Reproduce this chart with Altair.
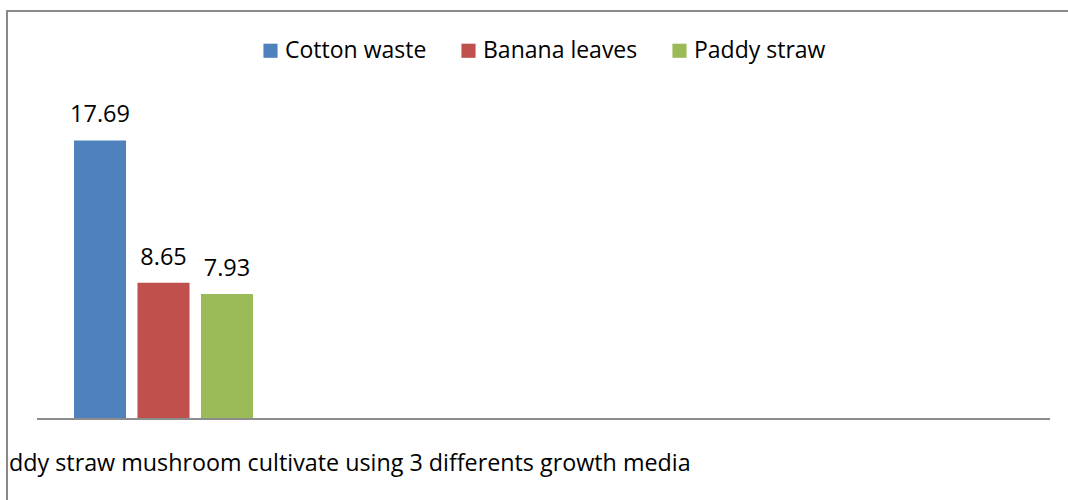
import altair as alt
import pandas as pd

series = ["Cotton waste", "Banana leaves", "Paddy straw"]
values = [17.69, 8.65, 7.93]
colors = ["#4F81BD", "#C0504D", "#9BBB59"]
category_label = ["ddy straw mushroom cultivate using 3 differents growth media"]

FONT = "Open Sans"
W, H = 1013, 315

df = pd.DataFrame({"series": series, "value": values})

x_enc = alt.X("series:N", sort=series, axis=None,
              scale=alt.Scale(domain=series, range=[37, 216], paddingInner=0.18, paddingOuter=0))
y_enc = alt.Y("value:Q", axis=None, scale=alt.Scale(domain=[0, 20], nice=False))

bars = alt.Chart(df).mark_bar().encode(
    x=x_enc,
    y=y_enc,
    color=alt.Color("series:N", sort=series,
                    scale=alt.Scale(domain=series, range=colors),
                    legend=alt.Legend(orient="none", legendX=222, legendY=-65,
                                      direction="horizontal", title=None, padding=0,
                                      symbolType="square", symbolSize=200,
                                      symbolStrokeWidth=0, symbolOpacity=1,
                                      labelFontSize=23, labelFont=FONT,
                                      labelColor="black", columnPadding=30,
                                      labelOffset=3)),
)

labels = alt.Chart(df).mark_text(baseline="alphabetic", dy=-18, fontSize=23.5,
                                 font=FONT, color="black").encode(
    x=x_enc, y=y_enc, text=alt.Text("value:Q", format=".2f"))

axis_line = alt.Chart(df.head(1)).mark_rule(color="#8C8C8C", strokeWidth=2).encode(
    x=alt.value(0), x2=alt.value(W), y=alt.value(H))

border_left = alt.Chart(df.head(1)).mark_rule(color="#898989", strokeWidth=2).encode(
    x=alt.value(-30), y=alt.value(-93), y2=alt.value(400))
border_top = alt.Chart(df.head(1)).mark_rule(color="#898989", strokeWidth=2).encode(
    x=alt.value(-31), x2=alt.value(1040), y=alt.value(-93))

cat_df = pd.DataFrame({"label": category_label})
cat_text = alt.Chart(cat_df).mark_text(align="left", baseline="alphabetic",
                                       fontSize=23.3, font=FONT, color="black").encode(
    x=alt.value(-28), y=alt.value(367), text="label:N")

chart = alt.layer(bars, labels, axis_line, border_left, border_top, cat_text).properties(
    width=W, height=H,
    autosize=alt.AutoSizeParams(type="none"),
    padding={"left": 37, "top": 104, "right": 18, "bottom": 81},
    background="white",
).configure_view(strokeWidth=0)

chart.save("out.html", embed_options={"renderer": "svg", "actions": False})
